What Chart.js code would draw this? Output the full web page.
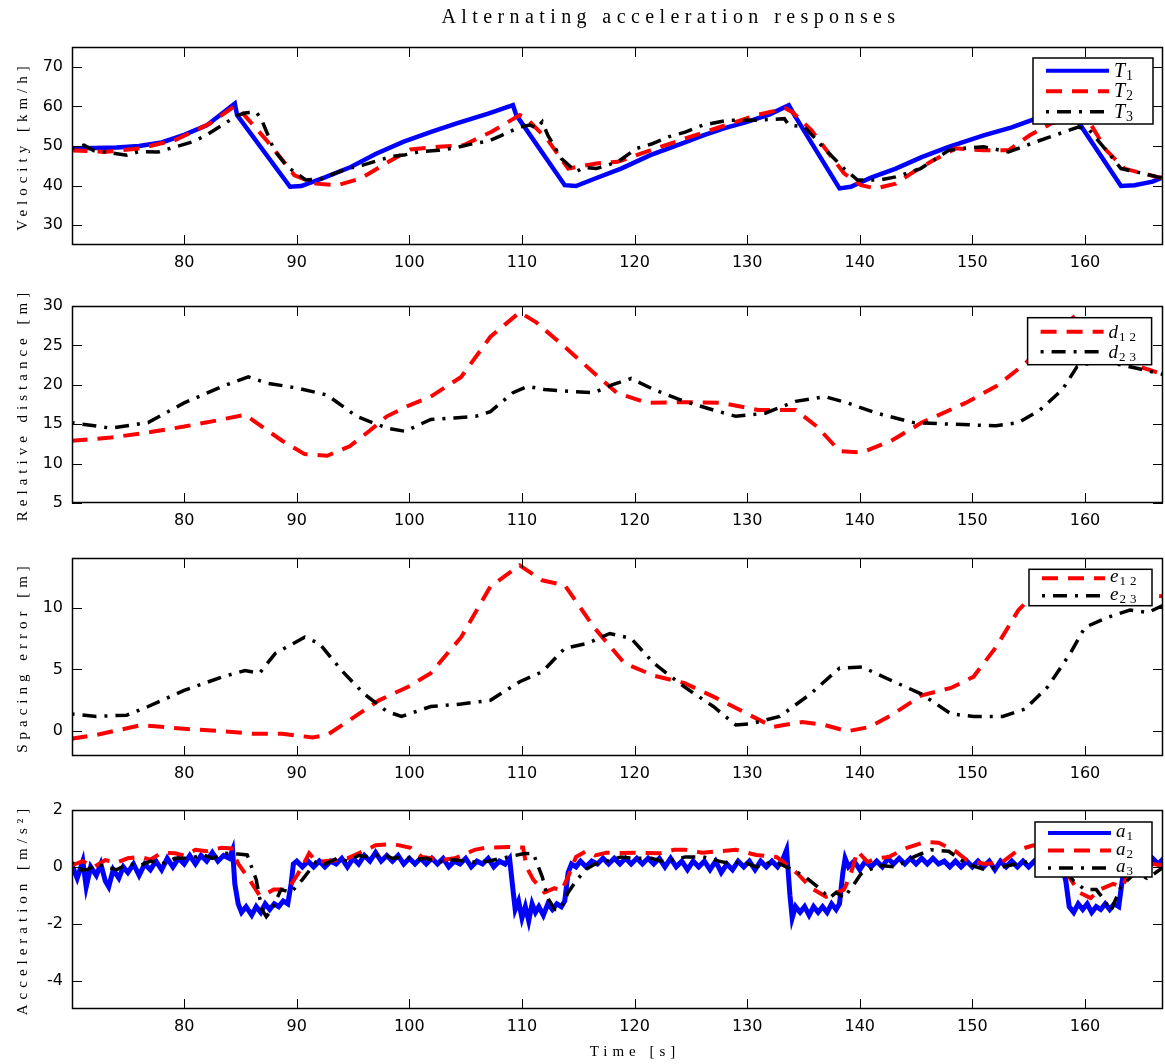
<!DOCTYPE html>
<html>
<head>
<meta charset="utf-8">
<title>Alternating acceleration responses</title>
<script src="https://cdn.jsdelivr.net/npm/chart.js@4/dist/chart.umd.min.js"></script>
<style>
  body { margin: 0; background: #fff; }
  #wrap { position: relative; width: 1165px; height: 1064px; }
  canvas { position: absolute; left: 0; }
</style>
</head>
<body>
<div id="wrap">
  <canvas id="velChart" width="1165" height="280" style="top:0px"></canvas>
  <canvas id="distChart" width="1165" height="255" style="top:280px"></canvas>
  <canvas id="errChart" width="1165" height="256" style="top:535px"></canvas>
  <canvas id="accChart" width="1165" height="273" style="top:791px"></canvas>
</div>
<script>
// ---- data ----
var xTicks = [80, 90, 100, 110, 120, 130, 140, 150, 160];
var velTicks = [30, 40, 50, 60, 70];
var distTicks = [5, 10, 15, 20, 25, 30];
var errTicks = [0, 5, 10];
var accTicks = [-4, -2, 0, 2];

// velocity [km/h]
var t1Time = [70, 72, 74, 76, 78, 80, 82, 84.5, 84.7, 89.4, 90.4, 92.5, 94.8, 97, 99.5, 102, 104.2, 107, 109.2, 109.5, 113.8, 114.8, 116.5, 118.8, 121.4, 124, 126.1, 128, 130, 132, 133.7, 134.2, 138.2, 139.2, 141, 143.2, 145.5, 147.9, 151, 153.5, 155.7, 157.2, 158.6, 159.0, 163.2, 164.4, 166, 167];
var t1Vel = [49.4, 49.5, 49.6, 50.0, 50.9, 52.8, 55.2, 60.7, 57.8, 39.7, 39.9, 42.1, 44.7, 48.0, 51.1, 53.6, 55.7, 58.2, 60.3, 57.8, 40.1, 39.9, 41.8, 44.3, 47.7, 50.4, 52.7, 54.5, 56.1, 58.0, 60.3, 57.8, 39.3, 39.7, 42.0, 44.3, 47.2, 49.8, 52.7, 54.7, 57.0, 58.5, 60.0, 57.8, 39.9, 40.1, 41.0, 42.2];
var t2Time = [70, 73, 76.1, 79.2, 82.3, 84.4, 85.1, 87.3, 89.8, 91.7, 93.6, 95.7, 97.9, 100.1, 102.6, 104.8, 107.3, 109.8, 110.4, 112.3, 114.1, 116.6, 118.5, 121.4, 124.5, 127.6, 130.8, 133.4, 134, 135.7, 138.6, 140.1, 141.4, 143.2, 144.8, 146.3, 148.5, 151, 153.2, 155.1, 157, 159.5, 160.3, 161.9, 163.5, 165.1, 167];
var t2Vel = [48.9, 48.5, 49.4, 51.5, 55.7, 59.9, 58.6, 51.5, 42.6, 40.5, 40.1, 41.8, 45.6, 49.1, 49.8, 50.2, 53.6, 57.8, 57.0, 51.5, 44.3, 45.6, 46.0, 48.9, 51.9, 54.8, 57.8, 59.5, 58.6, 54.0, 43.1, 40.1, 39.3, 40.5, 43.5, 46.0, 49.4, 48.9, 48.9, 52.7, 55.7, 57.5, 56.5, 48.9, 44.3, 43.1, 41.8];
var t3Time = [70, 71.1, 72, 73, 74.9, 76, 77.7, 79, 80.8, 82, 83.6, 84.8, 85.5, 86.4, 86.9, 88, 89.2, 90.8, 92.3, 93.2, 94.5, 95.8, 97.3, 98.5, 99.5, 101, 102.6, 104, 105.7, 107, 108.2, 109.8, 110.7, 111.3, 111.8, 112.3, 113.5, 114.8, 115.5, 116.6, 118.5, 120.2, 121.5, 123, 124.5, 126.1, 128.3, 130.8, 133.3, 133.7, 135.1, 137, 138.6, 139.8, 141.7, 143.2, 145.4, 147.9, 149.5, 151, 153.2, 155.7, 158.2, 159.4, 160.4, 161.9, 163.2, 165.1, 167];
var t3Vel = [49.4, 50.2, 48.8, 48.5, 47.7, 48.6, 48.5, 49.6, 51.1, 52.8, 55.7, 57.8, 58.4, 58.6, 56.5, 48.9, 44.7, 41.4, 41.8, 42.9, 44.3, 45.1, 46.4, 47.4, 47.7, 48.6, 48.9, 49.5, 50.6, 51.2, 52.7, 54.8, 55.3, 54.5, 56.1, 52.7, 46.8, 43.5, 44.6, 44.3, 46.0, 49.4, 50.5, 52.3, 53.5, 55.3, 56.5, 56.5, 56.9, 55.3, 54.8, 48.9, 44.3, 41.4, 41.4, 42.2, 44.3, 48.9, 49.5, 49.8, 48.5, 51.1, 53.6, 54.8, 54.0, 48.9, 44.3, 43.1, 41.8];

// relative distance [m]
var d12Time = [70, 73.5, 77, 80, 83, 85.4, 86.4, 88.7, 90.7, 92.7, 94.7, 96.5, 98, 100, 101.9, 104.6, 107.2, 109.8, 111.2, 113.8, 116.4, 118.4, 121.1, 124.4, 127.7, 131, 134.3, 136.2, 138.2, 140.2, 142.8, 145.5, 149.4, 152.1, 154.7, 157.4, 159.3, 161.3, 164, 167];
var d12 = [12.9, 13.3, 14.0, 14.7, 15.5, 16.2, 15.2, 12.9, 11.2, 11.0, 12.2, 14.2, 16.0, 17.4, 18.5, 21.0, 26.1, 29.2, 28.0, 24.8, 21.5, 19.0, 17.7, 17.8, 17.7, 16.8, 16.8, 14.7, 11.6, 11.4, 12.9, 15.2, 17.7, 19.8, 22.7, 26.5, 29.0, 26.1, 22.7, 21.3];
var d23Time = [70, 73.5, 76.8, 80, 83.4, 85.7, 87.4, 90, 92.7, 95.3, 98, 99.6, 101.9, 104, 105.9, 107.2, 109.2, 110.5, 112, 113.8, 116.4, 118, 119.7, 121.7, 124.4, 127, 129, 131.6, 134.3, 136.9, 138.9, 141.5, 144.8, 148.1, 152.1, 154.1, 156, 158, 159.3, 161, 162.6, 164.6, 167];
var d23 = [15.2, 14.5, 15.2, 17.7, 19.8, 21.0, 20.2, 19.6, 18.7, 16.0, 14.5, 14.1, 15.6, 15.8, 16.0, 16.6, 19.0, 19.8, 19.4, 19.2, 19.0, 20.0, 20.8, 19.4, 17.9, 16.8, 16.0, 16.4, 17.9, 18.5, 17.7, 16.4, 15.2, 15.0, 14.8, 15.2, 16.8, 19.4, 22.3, 23.0, 22.7, 22.1, 21.3];

// spacing error [m]
var e12Time = [70, 72.2, 76.2, 80, 83.4, 86.1, 88.7, 91.4, 92.7, 94.7, 97.3, 99.9, 101.9, 104.6, 107.2, 109.8, 111.8, 113.8, 116.4, 119.1, 121.7, 124.4, 127, 129.6, 132.3, 134.9, 136.9, 138.9, 140.9, 142.8, 145.5, 148.1, 150.1, 152.1, 154.1, 155.4, 157, 160, 163, 167];
var e12 = [-0.6, -0.3, 0.5, 0.2, 0.0, -0.2, -0.2, -0.5, -0.3, 0.9, 2.5, 3.6, 4.7, 7.6, 11.7, 13.4, 12.2, 11.8, 8.4, 5.5, 4.5, 3.9, 2.8, 1.6, 0.35, 0.75, 0.5, 0.0, 0.35, 1.3, 2.9, 3.5, 4.4, 6.8, 9.8, 11.0, 11.4, 11.3, 11.1, 10.9];
var e23Time = [70, 72.2, 74.9, 76.8, 80, 83.4, 85.4, 86.7, 88.1, 90.7, 92, 94, 96, 98, 99.3, 101.9, 104.6, 107.2, 109.8, 111.8, 113.8, 115.8, 117.8, 119.7, 121.7, 124.4, 127, 129, 130.3, 132.9, 135.6, 138.2, 140.2, 142.8, 145.5, 148.1, 150.1, 152.7, 154.7, 156.7, 158.7, 160, 162, 164, 165.6, 167];
var e23 = [1.4, 1.2, 1.3, 2.0, 3.3, 4.4, 4.9, 4.7, 6.3, 7.6, 7.1, 4.9, 3.0, 1.6, 1.2, 2.0, 2.2, 2.5, 4.0, 4.8, 6.7, 7.1, 7.9, 7.5, 5.5, 3.6, 2.0, 0.5, 0.6, 1.2, 3.0, 5.1, 5.2, 4.1, 3.0, 1.4, 1.2, 1.2, 1.8, 3.6, 6.3, 8.4, 9.2, 9.8, 9.6, 10.2];

// acceleration [m/s^2]
var a1Time = [70, 70.5, 71, 71.3, 71.7, 72.2, 72.6, 73, 73.3, 73.7, 74.2, 74.6, 75, 75.5, 76, 76.5, 77, 77.5, 78, 78.5, 79, 79.5, 80, 80.5, 81, 81.5, 82, 82.5, 83, 83.5, 84, 84.3,
  84.5, 84.8, 85.1, 85.5, 86, 86.4, 86.8, 87.2, 87.6, 88, 88.4, 88.8, 89.2, 89.5, 89.7, 90, 90.5, 91, 91.5, 92, 92.5, 93, 93.5, 94, 94.5, 95, 95.5, 96, 96.5, 97, 97.5, 98, 98.5, 99, 99.5, 100, 100.5, 101, 101.5, 102, 102.5, 103, 103.5, 104, 104.5, 105, 105.5, 106, 106.5, 107, 107.5, 108, 108.5, 108.9,
  109.2, 109.4, 109.7, 110, 110.3, 110.6, 110.9, 111.2, 111.5, 111.9, 112.3, 112.7, 113.1, 113.5, 113.8, 114.1, 114.4, 114.8, 115.2, 115.7, 116.2, 116.7, 117.2, 117.7, 118.2, 118.7, 119.2, 119.7, 120.2, 120.7, 121.2, 121.7, 122.2, 122.7, 123.2, 123.7, 124.2, 124.7, 125.2, 125.7, 126.2, 126.7, 127.2, 127.7, 128.2, 128.7, 129.2, 129.7, 130.2, 130.7, 131.2, 131.7, 132.2, 132.7, 133.2, 133.5,
  133.8, 134, 134.3, 134.7, 135.1, 135.5, 135.9, 136.3, 136.7, 137.1, 137.5, 137.9, 138.2, 138.5, 138.7, 139, 139.5, 140, 140.5, 141, 141.5, 142, 142.5, 143, 143.5, 144, 144.5, 145, 145.5, 146, 146.5, 147, 147.5, 148, 148.5, 149, 149.5, 150, 150.5, 151, 151.5, 152, 152.5, 153, 153.5, 154, 154.5, 155, 155.5, 156, 156.5, 157, 157.5, 158,
  158.3, 158.6, 159, 159.4, 159.8, 160.2, 160.6, 161, 161.4, 161.8, 162.2, 162.6, 163, 163.3, 163.6, 164, 164.5, 165, 165.5, 166, 166.5, 167];
var a1 = [0.1, -0.4, 0.2, -0.7, 0.0, -0.3, 0.1, -0.5, -0.7, -0.1, -0.4, 0.0, -0.2, 0.1, -0.3, 0.1, -0.1, 0.2, -0.1, 0.3, 0.0, 0.3, 0.1, 0.4, 0.1, 0.4, 0.2, 0.5, 0.2, 0.4, 0.3, 0.6,
  -0.6, -1.3, -1.6, -1.4, -1.7, -1.4, -1.6, -1.3, -1.5, -1.3, -1.4, -1.2, -1.3, -0.6, 0.1, 0.2, 0.0, 0.2, 0.0, 0.2, 0.0, 0.2, 0.1, 0.3, 0.0, 0.3, 0.1, 0.4, 0.2, 0.5, 0.2, 0.4, 0.2, 0.4, 0.1, 0.3, 0.1, 0.3, 0.1, 0.3, 0.1, 0.3, 0.0, 0.2, 0.1, 0.3, 0.0, 0.2, 0.1, 0.3, 0.0, 0.2, 0.1, 0.3,
  -0.8, -1.5, -1.2, -1.8, -1.4, -1.9, -1.3, -1.6, -1.4, -1.7, -1.3, -1.5, -1.3, -1.4, -1.2, -0.2, 0.1, 0.0, 0.2, 0.0, 0.2, 0.1, 0.3, 0.1, 0.3, 0.1, 0.3, 0.1, 0.3, 0.1, 0.3, 0.1, 0.3, 0.0, 0.3, 0.0, 0.2, -0.1, 0.2, 0.0, 0.2, -0.1, 0.2, -0.2, 0.1, -0.1, 0.2, 0.0, 0.2, -0.1, 0.2, 0.0, 0.2, 0.0, 0.3, 0.6,
  -1.0, -1.8, -1.4, -1.6, -1.4, -1.7, -1.4, -1.6, -1.4, -1.6, -1.3, -1.5, -1.3, -0.2, 0.3, 0.0, 0.2, -0.1, 0.2, 0.0, 0.2, 0.0, 0.3, 0.1, 0.3, 0.1, 0.3, 0.1, 0.3, 0.1, 0.3, 0.1, 0.2, 0.0, 0.2, 0.0, 0.2, 0.0, 0.2, 0.0, 0.2, -0.1, 0.2, 0.0, 0.2, 0.0, 0.2, 0.0, 0.2, 0.0, 0.2, 0.0, 0.2, 0.0,
  -0.5, -1.4, -1.6, -1.3, -1.5, -1.3, -1.6, -1.4, -1.5, -1.3, -1.5, -1.3, -1.4, -0.5, 0.1, 0.2, 0.0, 0.2, 0.1, 0.3, 0.1, 0.3];
var a2Time = [70, 71, 72, 73, 74, 75, 76.1, 77, 78, 79.2, 80, 81, 82, 83.3, 84.2, 84.8, 85.8, 86.7, 87.3, 87.95, 89.2, 90.1, 90.6, 91.1, 91.7, 92.5, 93.6, 94.5, 95.5, 96.2, 97, 98.6, 100.1, 101.1, 102, 102.9, 104, 104.8, 105.8, 106.7, 108.8, 110.1, 110.4, 111, 112, 112.9, 113.5, 114.1, 114.8, 115.7, 116.5, 117.5, 118.3, 120, 122.3, 123.5, 124.5, 126, 127.6, 129, 130.8, 132.6, 133.6, 134.5, 135.7, 137, 137.6, 138.6, 139.2, 139.8, 140.7, 141.5, 142.6, 144.2, 145.8, 147, 148.5, 149.5, 151, 152.6, 154.1, 155.4, 156.5, 157.5, 158.5, 159.5, 160.5, 161.3, 162.5, 163.3, 163.8, 164.3, 165, 166, 167];
var a2 = [0.05, 0.2, 0.0, 0.24, 0.15, 0.3, 0.35, 0.25, 0.5, 0.48, 0.4, 0.6, 0.55, 0.67, 0.65, 0.11, -0.45, -1.0, -0.95, -0.8, -0.8, -0.25, 0.1, 0.48, 0.2, 0.2, 0.24, 0.3, 0.48, 0.6, 0.76, 0.8, 0.67, 0.35, 0.3, 0.24, 0.3, 0.42, 0.6, 0.67, 0.7, 0.68, 0.0, -0.45, -0.9, -0.75, -0.85, -0.35, 0.35, 0.55, 0.4, 0.5, 0.48, 0.5, 0.48, 0.6, 0.6, 0.5, 0.55, 0.6, 0.42, 0.35, 0.05, -0.25, -0.75, -1.05, -0.95, -0.8, -0.25, 0.55, 0.17, 0.3, 0.35, 0.67, 0.88, 0.85, 0.55, 0.24, 0.11, 0.15, 0.6, 0.76, 0.6, 0.2, -0.3, -0.9, -1.1, -0.8, -0.6, -0.7, -0.3, 0.3, -0.2, 0.1, 0.05];
var a3Time = [70, 70.7, 71.4, 72.2, 73, 74, 75, 76.1, 77, 78, 79.2, 80.5, 81.7, 82.5, 83.6, 84.8, 85.6, 86.4, 86.9, 87.3, 87.8, 88.6, 89.5, 90.5, 91.7, 92.5, 93.6, 94.5, 95.5, 96.4, 97.5, 98.5, 99.5, 100.5, 101.5, 102.6, 104, 105.7, 107, 108.2, 110.1, 111, 111.8, 112.3, 112.9, 113.4, 114.1, 114.8, 115.7, 116.5, 117.3, 118.8, 120, 121.5, 122.7, 124.5, 126.1, 127.5, 128.6, 129.5, 130.8, 132, 132.9, 133.9, 135.1, 136.4, 137.3, 137.9, 138.6, 139.5, 140.1, 141.7, 143.2, 144.8, 146.3, 147.9, 149.5, 151, 152.6, 154.8, 156.5, 158, 159, 160, 161, 161.6, 162.3, 163.2, 163.7, 164.5, 165.5, 166.3, 167];
var a3 = [0.17, -0.1, -0.1, 0.1, 0.0, -0.1, 0.1, 0.05, 0.2, 0.1, 0.3, 0.3, 0.42, 0.3, 0.48, 0.45, 0.42, -0.45, -1.5, -1.75, -1.5, -0.8, -0.9, -0.45, 0.17, 0.1, 0.3, 0.2, 0.4, 0.35, 0.45, 0.3, 0.35, 0.25, 0.3, 0.17, 0.25, 0.17, 0.2, 0.3, 0.46, 0.48, -0.35, -1.1, -1.5, -1.5, -0.9, -0.5, -0.08, 0.1, 0.17, 0.35, 0.3, 0.3, 0.17, 0.35, 0.35, 0.2, 0.11, 0.2, 0.0, 0.15, 0.1, -0.08, -0.33, -0.75, -1.1, -0.9, -1.1, -0.6, -0.25, 0.05, 0.0, 0.35, 0.6, 0.55, 0.1, -0.08, 0.0, 0.17, 0.2, 0.0, -0.5, -0.8, -0.8, -1.1, -1.55, -0.7, -0.5, -0.2, -0.4, -0.2, 0.0];

// ---- styles ----
var BLUE = '#0000ff', RED = '#ff0000', BLACK = '#000000';
var DASH = [16, 10];
var DASHDOT = [3, 8, 14, 8];
var TICK_FONT = { family: '"DejaVu Sans", sans-serif', size: 16 };
var SERIF = '"Liberation Serif", "DejaVu Serif", serif';

function pts(times, vals) {
    return times.map(function (t, i) { return { x: t, y: vals[i] }; });
}

function line(label, times, vals, color, dash, width, order) {
    return {
        label: label,
        data: pts(times, vals),
        borderColor: color,
        backgroundColor: color,
        borderWidth: width,
        borderDash: dash,
        borderCapStyle: 'butt',
        pointRadius: 0,
        tension: 0,
        fill: false,
        clip: 0,
        order: order
    };
}

// draws the box, inward ticks, legend and titles (MATLAB look)
var framePlugin = {
    id: 'frame',
    afterDatasetsDraw: function (chart, args, opts) {
        var ctx = chart.ctx, a = chart.chartArea;
        var sx = chart.scales.x, sy = chart.scales.y;
        ctx.save();
        ctx.strokeStyle = '#000';
        ctx.lineWidth = 1;
        ctx.beginPath();
        sx.ticks.forEach(function (t) {
            var px = Math.round(sx.getPixelForValue(t.value)) + 0.5;
            ctx.moveTo(px, a.bottom); ctx.lineTo(px, a.bottom - 10);
            ctx.moveTo(px, a.top); ctx.lineTo(px, a.top + 10);
        });
        sy.ticks.forEach(function (t) {
            var py = Math.round(sy.getPixelForValue(t.value)) + 0.5;
            ctx.moveTo(a.left, py); ctx.lineTo(a.left + 10, py);
            ctx.moveTo(a.right, py); ctx.lineTo(a.right - 10, py);
        });
        ctx.stroke();
        ctx.lineWidth = 1.5;
        ctx.strokeRect(a.left + 0.5, a.top + 0.5, a.right - a.left - 1, a.bottom - a.top - 1);

        // legend box in the upper right corner
        var lg = opts.legend;
        var bx = a.right - lg.right - lg.width, by = a.top + lg.top;
        ctx.fillStyle = '#fff';
        ctx.fillRect(bx, by, lg.width, lg.height);
        ctx.lineWidth = 1.5;
        ctx.strokeRect(bx, by, lg.width, lg.height);
        chart.data.datasets.forEach(function (ds, i) {
            var y = by + lg.first + i * lg.row;
            ctx.save();
            ctx.strokeStyle = ds.borderColor;
            ctx.lineWidth = Math.min(ds.borderWidth, 4);
            ctx.setLineDash(ds.borderDash || []);
            ctx.beginPath();
            ctx.moveTo(bx + 13, y); ctx.lineTo(bx + 76, y);
            ctx.stroke();
            ctx.restore();
            ctx.fillStyle = '#000';
            ctx.textAlign = 'left';
            ctx.textBaseline = 'alphabetic';
            ctx.font = 'italic ' + lg.size + 'px ' + SERIF;
            var main = ds.label.charAt(0), sub = ds.label.slice(1);
            ctx.fillText(main, bx + 81, y + lg.base);
            var w = ctx.measureText(main).width;
            ctx.font = (lg.size - 6) + 'px ' + SERIF;
            ctx.letterSpacing = '4px';
            ctx.fillText(sub, bx + 82 + w, y + lg.base + 3);
            ctx.letterSpacing = '0px';
        });

        // y axis title, spaced letters
        ctx.save();
        ctx.translate(23, (a.top + a.bottom) / 2);
        ctx.rotate(-Math.PI / 2);
        ctx.font = '15px ' + SERIF;
        ctx.letterSpacing = '5px';
        ctx.fillStyle = '#000';
        ctx.textAlign = 'center';
        ctx.textBaseline = 'middle';
        ctx.fillText(opts.yTitle, 0, 0);
        ctx.restore();

        ctx.fillStyle = '#000';
        ctx.textAlign = 'center';
        ctx.textBaseline = 'middle';
        if (opts.xTitle) {
            ctx.letterSpacing = '5px';
            ctx.font = '15px ' + SERIF;
            ctx.fillText(opts.xTitle, opts.xTitleX, opts.xTitleY);
        }
        if (opts.mainTitle) {
            ctx.letterSpacing = '5.4px';
            ctx.font = '20px ' + SERIF;
            ctx.fillText(opts.mainTitle, opts.mainTitleX, opts.mainTitleY);
        }
        ctx.restore();
    }
};

function makePanel(id, datasets, yMin, yMax, yTicks, padTop, axisH, frameOpts) {
    return new Chart(document.getElementById(id), {
        type: 'line',
        data: { datasets: datasets },
        plugins: [framePlugin],
        options: {
            responsive: false,
            animation: false,
            events: [],
            layout: { padding: { top: padTop, left: 0, right: 2, bottom: 0 } },
            scales: {
                x: {
                    type: 'linear',
                    min: 70.04,
                    max: 166.93,
                    grid: { display: false, drawTicks: false },
                    border: { display: false },
                    afterBuildTicks: function (s) { s.ticks = xTicks.map(function (v) { return { value: v }; }); },
                    afterFit: function (s) { s.height = axisH; },
                    ticks: { color: '#000', font: TICK_FONT, padding: 8, maxRotation: 0, callback: function (v) { return String(v); } }
                },
                y: {
                    min: yMin,
                    max: yMax,
                    grid: { display: false, drawTicks: false },
                    border: { display: false },
                    afterBuildTicks: function (s) { s.ticks = yTicks.map(function (v) { return { value: v }; }); },
                    afterFit: function (s) { s.width = 72; },
                    ticks: { color: '#000', font: TICK_FONT, padding: 9, callback: function (v) { return String(v); } }
                }
            },
            plugins: {
                legend: { display: false },
                tooltip: { enabled: false },
                frame: frameOpts
            }
        }
    });
}

makePanel('velChart', [
    line('T1', t1Time, t1Vel, BLUE, [], 4.5, 3),
    line('T2', t2Time, t2Vel, RED, DASH, 4, 2),
    line('T3', t3Time, t3Vel, BLACK, DASHDOT, 3.5, 1)
], 25, 75, velTicks, 47, 35, {
    yTitle: 'Velocity [km/h]',
    mainTitle: 'Alternating acceleration responses', mainTitleX: 671, mainTitleY: 18,
    legend: { width: 120, height: 66, right: 10, top: 11, first: 12.7, row: 20.5, size: 20, base: 6 }
});

makePanel('distChart', [
    line('d12', d12Time, d12, RED, DASH, 4, 2),
    line('d23', d23Time, d23, BLACK, DASHDOT, 3.5, 1)
], 5, 30, distTicks, 26, 32, {
    yTitle: 'Relative distance [m]',
    legend: { width: 124, height: 47, right: 11.4, top: 11.7, first: 14, row: 20, size: 19, base: 6 }
});

makePanel('errChart', [
    line('e12', e12Time, e12, RED, DASH, 4, 2),
    line('e23', e23Time, e23, BLACK, DASHDOT, 3.5, 1)
], -2, 14, errTicks, 23, 35, {
    yTitle: 'Spacing error [m]',
    legend: { width: 123, height: 36.4, right: 11, top: 11.3, first: 9, row: 17.4, size: 19, base: 4 }
});

makePanel('accChart', [
    line('a1', a1Time, a1, BLUE, [], 5, 3),
    line('a2', a2Time, a2, RED, DASH, 4, 2),
    line('a3', a3Time, a3, BLACK, DASHDOT, 3.5, 1)
], -5, 2, accTicks, 19, 55, {
    yTitle: 'Acceleration [m/s\u00b2]',
    xTitle: 'Time [s]', xTitleX: 635, xTitleY: 261,
    legend: { width: 117, height: 55, right: 11, top: 12, first: 11, row: 17.5, size: 19, base: 4 }
});
</script>
</body>
</html>
